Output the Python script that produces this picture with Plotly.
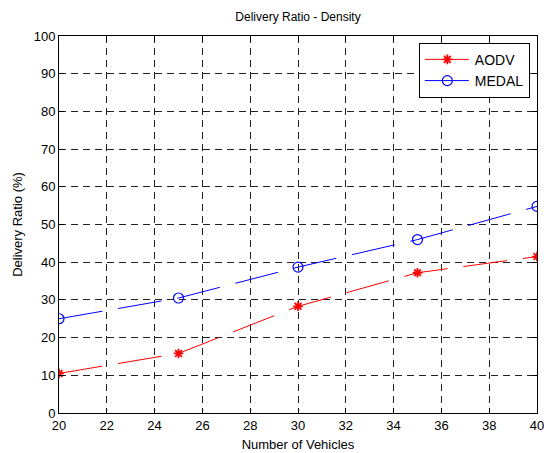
import plotly.graph_objects as go

vehicles = [20, 25, 30, 35, 40]
aodv = [10.5, 15.8, 28.3, 37.2, 41.5]
medal = [25.0, 30.5, 38.7, 46.0, 54.8]
x_ticks = [20, 22, 24, 26, 28, 30, 32, 34, 36, 38, 40]
y_ticks = [0, 10, 20, 30, 40, 50, 60, 70, 80, 90, 100]

font = dict(family="Liberation Sans, Arial, sans-serif", size=12, color="black")
title_font = dict(family="Liberation Sans, Arial, sans-serif", size=13, color="black")

fig = go.Figure()
fig.add_trace(go.Scatter(
    x=vehicles, y=aodv, name="AODV", mode="lines+markers",
    line=dict(color="#ff0000", width=1, dash="44px,16px"),
    marker=dict(symbol="asterisk-open", size=8, line=dict(color="#ff0000", width=1.8)),
))
fig.add_trace(go.Scatter(
    x=vehicles, y=medal, name="MEDAL", mode="lines+markers",
    line=dict(color="#0000ff", width=1, dash="44px,16px"),
    marker=dict(symbol="circle-open", size=10, color="#0000ff", line=dict(color="#0000ff", width=1.2)),
))

axis_common = dict(
    showline=True, linecolor="black", linewidth=1, mirror="ticks",
    ticks="inside", ticklen=5, tickcolor="black",
    showgrid=True, gridcolor="#222222", gridwidth=1, griddash="7px,5px",
    zeroline=False, ticklabeloverflow="allow", automargin=False,
    tickfont=dict(family="Liberation Sans, Arial, sans-serif", size=13, color="black"),
)
fig.update_xaxes(range=[20, 40], tickvals=x_ticks,
                 title=dict(text="Number of Vehicles", font=title_font, standoff=8), **axis_common)
fig.update_yaxes(range=[0, 100], tickvals=y_ticks,
                 title=dict(text="Delivery Ratio (%)", font=title_font, standoff=8), **axis_common)

fig.update_layout(
    width=544, height=453,
    margin=dict(l=59, r=7, t=36, b=40, autoexpand=False),
    paper_bgcolor="white", plot_bgcolor="white",
    font=font,
    title=dict(text="Delivery Ratio - Density", x=0.5, xanchor="center",
               xref="paper", y=1 - 17/453, yanchor="middle", font=font),
    legend=dict(x=0.985, y=0.982, xanchor="right", yanchor="top",
                bgcolor="white", bordercolor="black", borderwidth=1,
                font=dict(family="Liberation Sans, Arial, sans-serif", size=14, color="black"),
                itemwidth=45),
    showlegend=True,
)

fig.write_html("out.html", config={"displayModeBar": False},
               post_script="document.body.style.margin='0';document.body.style.overflow='hidden';")
